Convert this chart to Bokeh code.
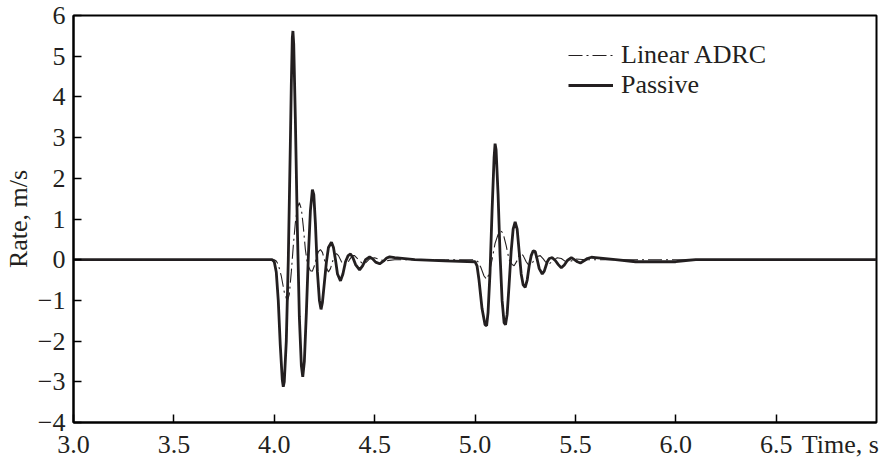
from bokeh.plotting import figure
from bokeh.models import Legend, LegendItem, FixedTicker, CustomJSTickFormatter, LinearAxis
from bokeh.embed import file_html
from bokeh.resources import INLINE

# ---- data ----
passive_t = [3.0, 3.99, 4.00, 4.01, 4.02, 4.03, 4.04, 4.045, 4.05, 4.06, 4.07, 4.08, 4.085, 4.09,
             4.093, 4.097, 4.105, 4.115, 4.125, 4.135, 4.142, 4.15, 4.16, 4.17, 4.18, 4.19,
             4.197, 4.205, 4.215, 4.225, 4.233, 4.24, 4.25, 4.26, 4.27, 4.285, 4.295, 4.305,
             4.315, 4.33, 4.342, 4.355, 4.368, 4.38, 4.392, 4.405, 4.425, 4.44, 4.455, 4.475,
             4.49, 4.505, 4.525, 4.545, 4.56, 4.575, 4.6, 4.7, 4.85, 5.0,
             5.01, 5.02, 5.035, 5.05, 5.058, 5.065, 5.075, 5.085, 5.095, 5.10, 5.105, 5.115,
             5.125, 5.135, 5.145, 5.152, 5.16, 5.17, 5.18, 5.19, 5.20, 5.21, 5.22, 5.23, 5.24,
             5.25, 5.26, 5.27, 5.28, 5.29, 5.30, 5.31, 5.32, 5.335, 5.345, 5.36, 5.37, 5.385,
             5.40, 5.415, 5.43, 5.445, 5.46, 5.48, 5.495, 5.51, 5.525, 5.545, 5.56, 5.58, 5.60,
             5.70, 5.80, 6.00, 6.05, 6.10, 7.0]
passive_v = [0.0, 0.0, -0.05, -0.3, -1.0, -2.1, -2.95, -3.12, -3.0, -2.0, 0.0, 2.8, 4.3, 5.45,
             5.62, 5.3, 3.5, 0.8, -1.4, -2.6, -2.88, -2.5, -1.3, 0.1, 1.2, 1.72,
             1.6, 0.9, -0.3, -1.0, -1.22, -1.05, -0.55, -0.05, 0.3, 0.43, 0.3, 0.0,
             -0.35, -0.52, -0.35, -0.05, 0.1, 0.14, 0.05, -0.12, -0.25, -0.15, 0.0, 0.07,
             0.02, -0.06, -0.1, -0.03, 0.04, 0.07, 0.05, 0.0, -0.03, -0.05,
             -0.15, -0.5, -1.2, -1.6, -1.62, -1.3, -0.3, 1.2, 2.5, 2.85, 2.7, 1.6,
             0.1, -1.0, -1.55, -1.6, -1.35, -0.6, 0.2, 0.75, 0.93, 0.75, 0.2, -0.35, -0.62,
             -0.68, -0.5, -0.15, 0.1, 0.22, 0.2, 0.0, -0.22, -0.35, -0.28, -0.05, 0.03, 0.05,
             -0.02, -0.12, -0.2, -0.13, -0.02, 0.05, 0.0, -0.05, -0.08, -0.02, 0.03, 0.06, 0.05,
             0.0, -0.05, -0.05, -0.02, 0.0, 0.0]

adrc_t = [3.0, 4.0, 4.01, 4.02, 4.035, 4.05, 4.065, 4.075, 4.085, 4.095, 4.105, 4.115, 4.125,
          4.135, 4.145, 4.155, 4.165, 4.18, 4.19, 4.20, 4.21, 4.22, 4.23, 4.24, 4.25, 4.26,
          4.27, 4.28, 4.29, 4.30, 4.31, 4.32, 4.335, 4.35, 4.36, 4.375, 4.39, 4.40, 4.42,
          4.44, 4.455, 4.475, 4.50, 4.53, 4.55, 4.60, 5.0,
          5.015, 5.03, 5.045, 5.058, 5.07, 5.085, 5.10, 5.115, 5.13, 5.14, 5.155, 5.17,
          5.185, 5.195, 5.21, 5.22, 5.23, 5.24, 5.255, 5.27, 5.28, 5.295, 5.31, 5.325,
          5.34, 5.355, 5.37, 5.39, 5.41, 5.43, 5.45, 5.48, 5.50, 5.55, 7.0]
adrc_v = [0.0, 0.0, -0.03, -0.12, -0.4, -0.8, -1.02, -0.85, -0.3, 0.35, 0.9, 1.28, 1.4,
          1.25, 0.8, 0.25, -0.1, -0.27, -0.28, -0.15, 0.05, 0.2, 0.25, 0.18, 0.0, -0.2,
          -0.3, -0.22, -0.05, 0.1, 0.15, 0.1, -0.05, -0.15, -0.12, 0.0, 0.1, 0.1, 0.0,
          -0.1, -0.08, 0.02, 0.05, 0.0, -0.03, 0.0, 0.0,
          -0.05, -0.2, -0.4, -0.48, -0.35, 0.0, 0.4, 0.62, 0.7, 0.65, 0.35, 0.0,
          -0.12, -0.15, -0.02, 0.12, 0.15, 0.1, -0.05, -0.15, -0.13, 0.0, 0.08, 0.1,
          0.02, -0.08, -0.1, -0.02, 0.05, 0.03, -0.04, -0.03, 0.02, 0.0, 0.0]

x_ticks = [3.0, 3.5, 4.0, 4.5, 5.0, 5.5, 6.0, 6.5]
x_tick_labels = ["3.0", "3.5", "4.0", "4.5", "5.0", "5.5", "6.0", "6.5"]
y_ticks = [-4, -3, -2, -1, 0, 1, 2, 3, 4, 5, 6]
y_tick_labels = ["\u22124", "\u22123", "\u22122", "\u22121", "0", "1", "2", "3", "4", "5", "6"]

series_names = ["Linear ADRC", "Passive"]
x_title = "Time, s"
x_title_pos = 6.82          # the x title sits in the tick-label row, right of 6.5
y_title = "Rate, m/s"

FONT = "Liberation Serif"
INK = "#231f20"

p = figure(width=888, height=461, output_backend="svg", toolbar_location=None,
           x_range=(3.0, 7.0), y_range=(-4.0, 6.0), x_axis_location=None,
           min_border_left=72, min_border_right=12, min_border_top=15, min_border_bottom=36)
p.background_fill_color = "white"
p.border_fill_color = "white"
p.outline_line_color = "black"
p.outline_line_width = 2
p.grid.visible = False

fmt_code = """
for (let i = 0; i < tvals.length; i++) {
  if (Math.abs(tvals[i] - tick) < 1e-9) { return tlabels[i]; }
}
return '';
"""

# bottom axis 1: axis line + inward tick marks, empty labels
x_tick_axis = LinearAxis(ticker=FixedTicker(ticks=x_ticks), axis_line_width=2, axis_line_color="black",
                         major_tick_in=8, major_tick_out=0, major_tick_line_width=1.5,
                         minor_tick_in=0, minor_tick_out=0, major_label_standoff=0,
                         formatter=CustomJSTickFormatter(code="return '';"),
                         major_label_text_font_size="1px")
p.add_layout(x_tick_axis, "below")

# bottom axis 2: tick labels plus the axis title in the same row
label_vals = x_ticks + [x_title_pos]
label_txts = x_tick_labels + [x_title]
x_label_axis = LinearAxis(ticker=FixedTicker(ticks=label_vals),
                          formatter=CustomJSTickFormatter(args=dict(tvals=label_vals, tlabels=label_txts),
                                                          code=fmt_code),
                          axis_line_color=None, major_tick_in=0, major_tick_out=0,
                          minor_tick_in=0, minor_tick_out=0, major_label_standoff=7,
                          major_label_text_font=FONT, major_label_text_font_size="26px",
                          major_label_text_color=INK)
p.add_layout(x_label_axis, "below")

ya = p.yaxis[0]
ya.ticker = FixedTicker(ticks=y_ticks)
ya.formatter = CustomJSTickFormatter(args=dict(tvals=y_ticks, tlabels=y_tick_labels), code=fmt_code)
ya.axis_line_width = 2
ya.axis_line_color = "black"
ya.major_tick_in = 8
ya.major_tick_out = 0
ya.major_tick_line_width = 1.5
ya.minor_tick_in = 0
ya.minor_tick_out = 0
ya.major_label_text_font = FONT
ya.major_label_text_font_size = "26px"
ya.major_label_text_color = INK
ya.major_label_standoff = 8
ya.axis_label = y_title
ya.axis_label_text_font = FONT
ya.axis_label_text_font_size = "26px"
ya.axis_label_text_font_style = "normal"
ya.axis_label_text_color = INK
ya.axis_label_standoff = 2

r_passive = p.line(passive_t, passive_v, line_color=INK, line_width=2.8)
r_adrc = p.line(adrc_t, adrc_v, line_color=INK, line_width=1.1, line_dash="14 4 2 4")

legend = Legend(items=[LegendItem(label=series_names[0], renderers=[r_adrc]),
                       LegendItem(label=series_names[1], renderers=[r_passive])],
                location=(495, 322), glyph_width=45, glyph_height=26, label_height=26,
                label_standoff=8, spacing=0, padding=0, margin=0,
                border_line_color=None, background_fill_alpha=0,
                label_text_font=FONT, label_text_font_size="26px", label_text_color=INK)
p.add_layout(legend)

open("out.html", "w").write(file_html(p, INLINE))
